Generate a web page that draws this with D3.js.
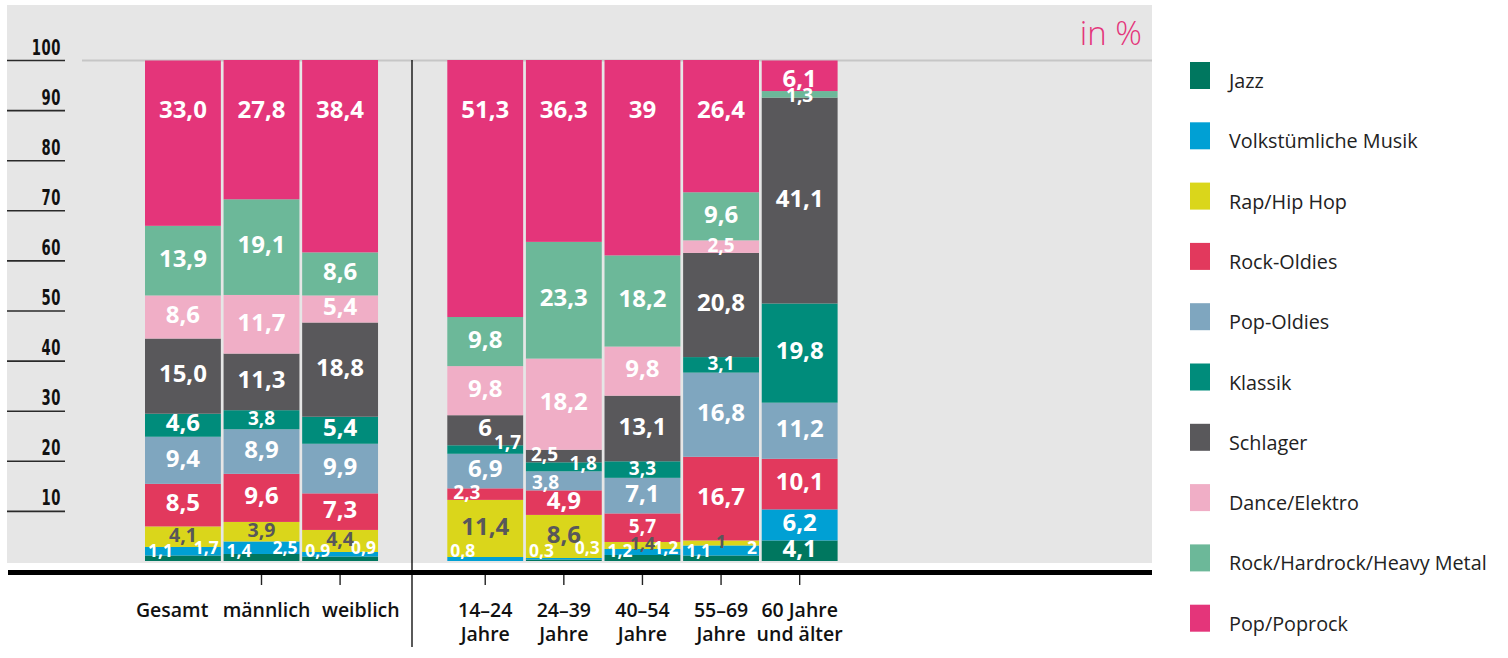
<!DOCTYPE html>
<html lang="de">
<head>
<meta charset="utf-8">
<script src="https://cdn.jsdelivr.net/npm/d3@7"></script>
<style>
  html, body { margin: 0; padding: 0; background: #ffffff; }
  svg { display: block; }
</style>
</head>
<body>
<svg id="chart" width="1508" height="658"></svg>
<script>
// Musikvorlieben nach Geschlecht und Alter (Anteile in %)
const categories = ["Gesamt", "männlich", "weiblich",
  "14–24\nJahre", "24–39\nJahre", "40–54\nJahre", "55–69\nJahre", "60 Jahre\nund älter"];
const genderCategories = categories.slice(0, 3);
const ageCategories = categories.slice(3);

const seriesNames = ["Jazz", "Volkstümliche Musik", "Rap/Hip Hop", "Rock-Oldies", "Pop-Oldies",
  "Klassik", "Schlager", "Dance/Elektro", "Rock/Hardrock/Heavy Metal", "Pop/Poprock"];

// printed values per genre, one entry per category
const jazz       = ["1,1", "1,4", "0,9", "0",    "0,3",  "1,2",  "1,1",  "4,1"];
const volks      = ["1,7", "2,5", "0,9", "0,8",  "0,3",  "1,2",  "2",    "6,2"];
const rapHipHop  = ["4,1", "3,9", "4,4", "11,4", "8,6",  "1,4",  "1",    "0"];
const rockOldies = ["8,5", "9,6", "7,3", "2,3",  "4,9",  "5,7",  "16,7", "10,1"];
const popOldies  = ["9,4", "8,9", "9,9", "6,9",  "3,8",  "7,1",  "16,8", "11,2"];
const klassik    = ["4,6", "3,8", "5,4", "1,7",  "1,8",  "3,3",  "3,1",  "19,8"];
const schlager   = ["15,0","11,3","18,8","6",    "2,5",  "13,1", "20,8", "41,1"];
const dance      = ["8,6", "11,7","5,4", "9,8",  "18,2", "9,8",  "2,5",  "0"];
const rockHard   = ["13,9","19,1","8,6", "9,8",  "23,3", "18,2", "9,6",  "1,3"];
const popPoprock = ["33,0","27,8","38,4","51,3", "36,3", "39",   "26,4", "6,1"];

const seriesValues = [jazz, volks, rapHipHop, rockOldies, popOldies, klassik, schlager, dance, rockHard, popPoprock];
const seriesColors = ["#00775f", "#00a0d4", "#dad61b", "#e2395d", "#7fa6bf",
  "#008c7b", "#59585b", "#f0aec6", "#6cb899", "#e4357a"];

const yTicks = [10, 20, 30, 40, 50, 60, 70, 80, 90, 100];

const parseDe = s => +s.replace(",", ".");

// label placement adjustments for crowded segments, keyed "category|series"
const labelTweaks = {
  "3|3": { anchor: "start", dx: 6 },
  "3|5": { anchor: "end", dx: -2, dy: -5 },
  "4|6": { anchor: "start", dx: 5 },
  "4|5": { anchor: "end", dx: -5, dy: -2 },
  "4|4": { anchor: "start", dx: 6, dy: 3 },
  "5|3": { size: 19 },
  "7|0": { size: 24 },
  "7|8": { dy: 3 },
  "7|9": { dy: 3 }
};

// ---------- data table ----------
const keys = seriesNames;
const rows = categories.map((c, i) => {
  const r = { category: c, index: i };
  keys.forEach((k, s) => { r[k] = parseDe(seriesValues[s][i]); });
  return r;
});
const stacked = d3.stack().keys(keys)(rows);

// ---------- scales ----------
const svg = d3.select("#chart");
const y = d3.scaleLinear().domain([0, 100]).range([561, 60]);
const xGender = d3.scaleBand().domain(genderCategories).range([145, 378]).paddingInner(0.035).paddingOuter(0);
const xAge = d3.scaleBand().domain(ageCategories).range([447.3, 837.6]).paddingInner(0.035).paddingOuter(0);
const xBar = c => genderCategories.includes(c) ? xGender(c) : xAge(c);
const bw = xAge.bandwidth();
// text row under the gender bars is spread a little wider than the bars themselves
const xGenderText = d3.scaleBand().domain(genderCategories).range([125, 408]);

// ---------- background ----------
svg.append("rect").attr("x", 7).attr("y", 5).attr("width", 1145).attr("height", 558).attr("fill", "#e6e6e6");
svg.append("line").attr("x1", 82).attr("x2", 1152).attr("y1", y(100) + 0.5).attr("y2", y(100) + 0.5)
  .attr("stroke", "#c6c6c6").attr("stroke-width", 2);

svg.append("text").attr("x", 1142).attr("y", 45).attr("text-anchor", "end")
  .attr("font-family", "'Open Sans', sans-serif").attr("font-weight", 300).attr("font-size", 33)
  .attr("fill", "#e4357a").text("in %");

// ---------- y axis ----------
const yLabelSquash = 0.6;
const yAxis = svg.append("g").attr("transform", "translate(65,0)")
  .call(d3.axisLeft(y).tickValues(yTicks).tickSize(58).tickFormat(d3.format("d")));
yAxis.select(".domain").remove();
yAxis.selectAll(".tick line").attr("stroke", "#2a2a2a").attr("stroke-width", 1.6);
yAxis.selectAll(".tick text")
  .attr("x", -4 / yLabelSquash).attr("dy", null).attr("y", -6)
  .attr("transform", `scale(${yLabelSquash},1)`)
  .attr("text-anchor", "end")
  .attr("font-family", "'DejaVu Sans', sans-serif")
  .attr("font-weight", 700).attr("font-size", 22).attr("letter-spacing", 1)
  .attr("fill", "#111");

// ---------- bars ----------
const layers = svg.append("g").selectAll("g").data(stacked).join("g")
  .attr("fill", (d, i) => seriesColors[i]);
layers.selectAll("rect").data(d => d.filter(p => p[1] - p[0] > 0)).join("rect")
  .attr("x", d => xBar(d.data.category))
  .attr("y", d => y(d[1]))
  .attr("width", bw)
  .attr("height", d => y(d[0]) - y(d[1]));

// ---------- value labels ----------
const labels = [];
stacked.forEach((layer, s) => {
  layer.forEach((p, ci) => {
    const v = p[1] - p[0];
    if (!(v > 0)) return;
    const cat = p.data.category;
    const x0 = xBar(cat), x1 = x0 + bw;
    const text = seriesValues[s][ci];
    let size = v >= 4.5 ? 24 : 19;
    let anchor = "middle", tx = x0 + bw / 2;
    let center = (y(p[0]) + y(p[1])) / 2;
    let baseline = center + 0.26 * size;
    let fill = "#ffffff";
    if (s === 2) { // Rap/Hip Hop on yellow uses dark text
      fill = "#58575a";
      size = v >= 8 ? 24 : v >= 2 ? 19.5 : 17.5;
      baseline = center + 0.26 * size;
    }
    if ((s === 0 || s === 1) && v < 3) { // small bottom segments
      size = 17.5;
      const jazzShown = parseDe(seriesValues[0][ci]) > 0;
      if (s === 0 || !jazzShown) {
        anchor = "start"; tx = x0 + 3; baseline = y(0) - 4;
      } else {
        anchor = "end"; tx = x1 - 2; baseline = y(0) - 7;
      }
    }
    if (s === 9) { // Pop/Poprock label sits near the top of the bar
      const c = Math.min(center, y(100) + 49);
      baseline = c + 0.357 * size;
    }
    const t = labelTweaks[ci + "|" + s];
    if (t) {
      if (t.size) { size = t.size; baseline = center + 0.26 * size; }
      if (t.anchor) {
        anchor = t.anchor;
        tx = t.anchor === "start" ? x0 : t.anchor === "end" ? x1 : x0 + bw / 2;
      }
      tx += t.dx || 0;
      baseline += t.dy || 0;
    }
    labels.push({ text, x: tx, y: baseline, size, anchor, fill });
  });
});
svg.append("g").selectAll("text").data(labels).join("text")
  .attr("x", d => d.x).attr("y", d => d.y)
  .attr("text-anchor", d => d.anchor)
  .attr("font-family", "'Open Sans', sans-serif").attr("font-weight", 700)
  .attr("font-size", d => d.size).attr("fill", d => d.fill)
  .text(d => d.text);

// ---------- baseline, group separator, x ticks ----------
svg.append("rect").attr("x", 8).attr("y", 570).attr("width", 1144).attr("height", 5).attr("fill", "#000");
svg.append("line").attr("x1", 412).attr("x2", 412).attr("y1", y(100)).attr("y2", 647)
  .attr("stroke", "#000").attr("stroke-width", 1.3);

const xAxisGender = svg.append("g").attr("transform", "translate(0,575)")
  .call(d3.axisBottom(xGender).tickValues(genderCategories.slice(1)).tickSize(10).tickFormat(""));
const xAxisAge = svg.append("g").attr("transform", "translate(0,575)")
  .call(d3.axisBottom(xAge).tickSize(10).tickFormat(""));
[xAxisGender, xAxisAge].forEach(g => {
  g.select(".domain").remove();
  g.selectAll(".tick line").attr("stroke", "#222").attr("stroke-width", 1.4);
});

// ---------- category labels ----------
const catText = svg.append("g")
  .attr("font-family", "'Open Sans', sans-serif").attr("font-weight", 600)
  .attr("font-size", 19.5).attr("fill", "#111").attr("text-anchor", "middle");
categories.forEach(c => {
  const cx = genderCategories.includes(c) ? xGenderText(c) + xGenderText.bandwidth() / 2 : xAge(c) + bw / 2;
  const t = catText.append("text").attr("x", cx).attr("y", 617);
  c.split("\n").forEach((line, li) => {
    t.append("tspan").attr("x", cx).attr("dy", li === 0 ? 0 : 24).text(line);
  });
});

// ---------- legend ----------
const legend = svg.append("g").selectAll("g").data(seriesNames).join("g")
  .attr("transform", (d, i) => `translate(1190,${62 + i * 60.3})`);
legend.append("rect").attr("width", 20).attr("height", 27).attr("fill", (d, i) => seriesColors[i]);
legend.append("text").attr("x", 39).attr("y", 26)
  .attr("font-family", "'Open Sans', sans-serif").attr("font-size", 19.8).attr("fill", "#222")
  .text(d => d);
</script>
</body>
</html>
